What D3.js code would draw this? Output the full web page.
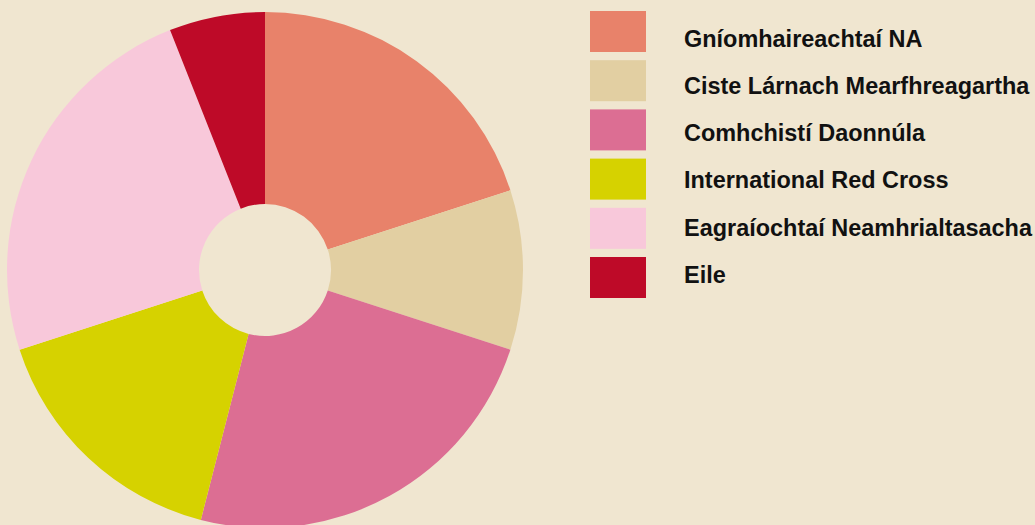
<!DOCTYPE html>
<html><head><meta charset="utf-8">
<script src="https://cdn.jsdelivr.net/npm/d3@7"></script>
<style>html,body{margin:0;padding:0;background:#F0E6D0;overflow:hidden}</style>
</head><body>
<svg id="c" width="1035" height="525"></svg>
<script>
const categories = ["Gníomhaireachtaí NA","Ciste Lárnach Mearfhreagartha","Comhchistí Daonnúla","International Red Cross","Eagraíochtaí Neamhrialtasacha","Eile"];
const values = [20, 10, 24, 16, 24, 6];
const colors = ["#E8826A","#E2CFA2","#DC6E93","#D6D200","#F8C8DA","#BE0A28"];

const svg = d3.select("#c");
svg.append("rect").attr("width",1035).attr("height",525).attr("fill","#F0E6D0");
const cx = 265, cy = 270, R = 258, r = 66;
const pie = d3.pie().sort(null).value(d=>d)(values);
const arc = d3.arc().innerRadius(r).outerRadius(R);
const g = svg.append("g").attr("transform",`translate(${cx},${cy})`);
g.selectAll("path").data(pie).join("path").attr("d",arc).attr("fill",(d,i)=>colors[i]);

const y = d3.scaleBand().domain(d3.range(categories.length)).range([11, 11+49.2*5+41]).paddingInner(8.2/49.2).paddingOuter(0);
const ty = d3.scaleLinear().domain([0, categories.length-1]).range([46.7, 282.7]);
const lg = svg.append("g");
lg.selectAll("rect").data(categories).join("rect")
  .attr("x",590).attr("y",(d,i)=>y(i)).attr("width",56).attr("height",y.bandwidth()).attr("fill",(d,i)=>colors[i]);
const t = lg.selectAll("text").data(categories).join("text")
  .attr("x",684).attr("y",(d,i)=>ty(i))
  .attr("font-family","Liberation Sans Narrow, Arial Narrow, Liberation Sans, sans-serif").attr("font-weight","bold")
  .attr("font-size",23).attr("fill","#111").text(d=>d);
const wE = t.nodes()[4].getComputedTextLength();
const k = 348 / wE;
t.each(function(){ const w = this.getComputedTextLength(); d3.select(this).attr("textLength", w*k).attr("lengthAdjust","spacingAndGlyphs"); });
</script>
</body></html>
